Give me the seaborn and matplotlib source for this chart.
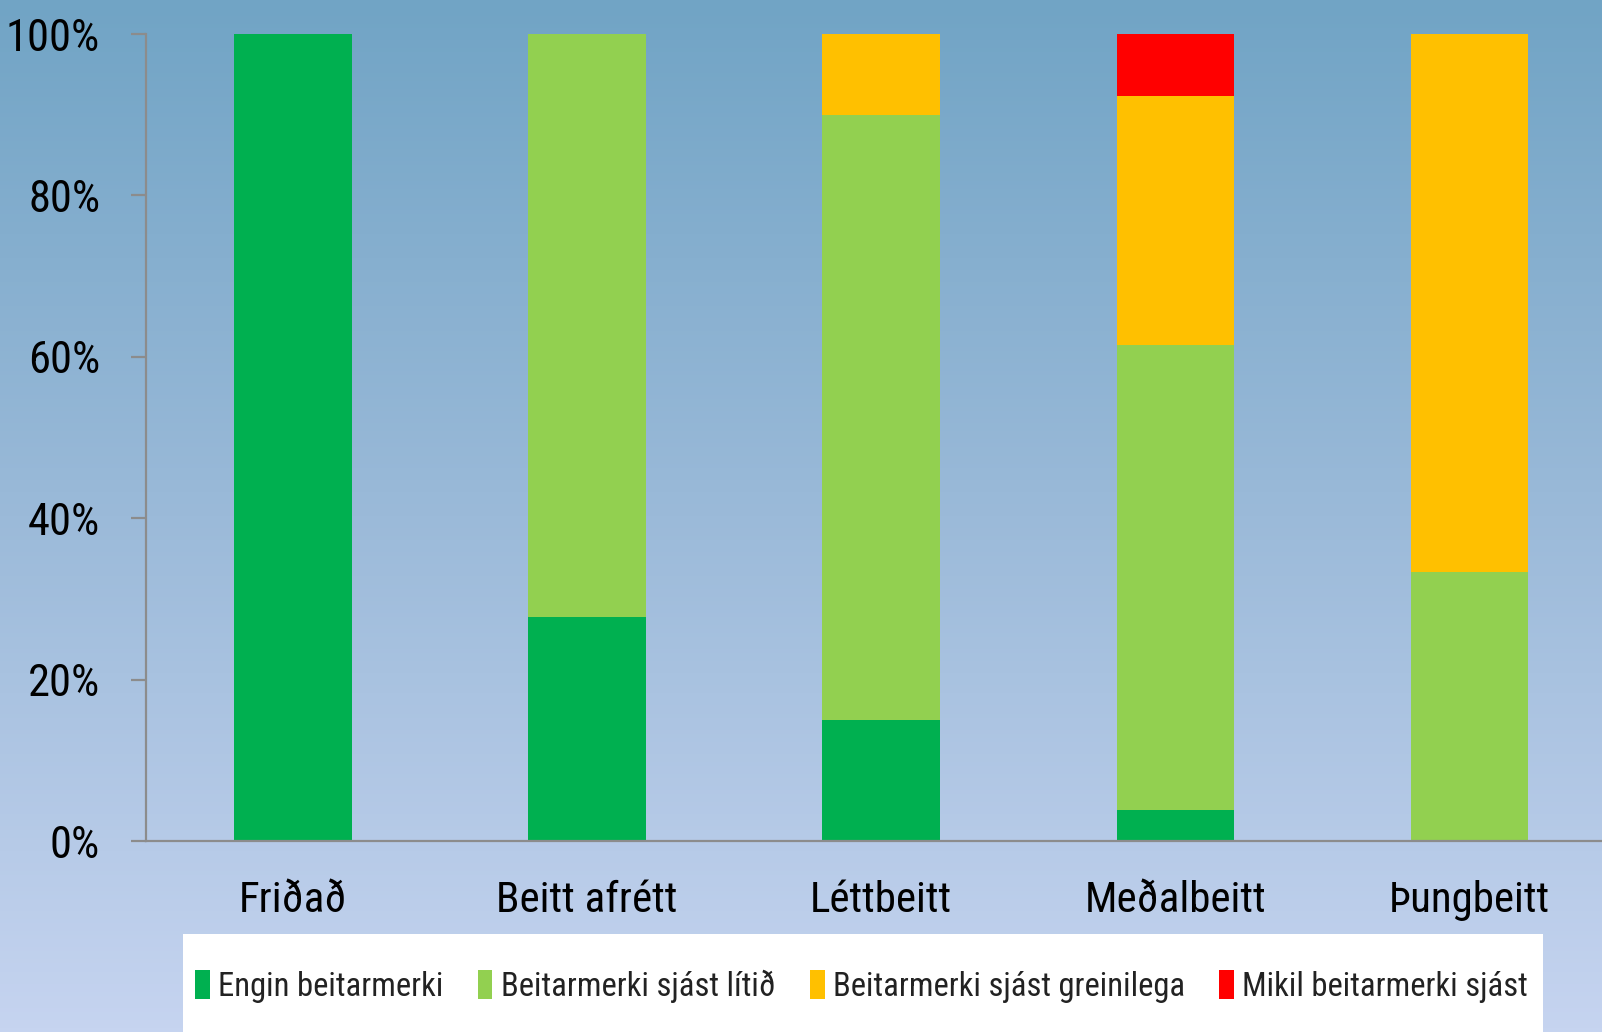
import numpy as np
import pandas as pd
import matplotlib
matplotlib.use("Agg")
import matplotlib.pyplot as plt
import seaborn as sns
from matplotlib import font_manager as fm
from matplotlib.patches import Patch, Rectangle
from matplotlib.colors import LinearSegmentedColormap

# ---------------- data ----------------
categories = ["Friðað", "Beitt afrétt", "Léttbeitt", "Meðalbeitt", "Þungbeitt"]
series_names = ["Engin beitarmerki", "Beitarmerki sjást lítið",
                "Beitarmerki sjást greinilega", "Mikil beitarmerki sjást"]
engin = [100.0, 27.8, 15.0, 3.8, 0.0]
litid = [0.0, 72.2, 75.0, 57.7, 33.3]
greinilega = [0.0, 0.0, 10.0, 30.8, 66.7]
mikil = [0.0, 0.0, 0.0, 7.7, 0.0]
yticks = [0, 20, 40, 60, 80, 100]
ytick_labels = ["0%", "20%", "40%", "60%", "80%", "100%"]
colors = ["#00B050", "#92D050", "#FFC000", "#FF0000"]

# ---------------- font ----------------
names = {f.name for f in fm.fontManager.ttflist}
font_kw = {}
scale = 1.0
for cand, sc in [("Roboto Condensed", 1.0), ("Liberation Sans Narrow", 1.05),
                 ("Open Sans Condensed", 1.0), ("DejaVu Sans Condensed", 0.9)]:
    if cand in names:
        font_kw = {"family": cand}
        scale = sc
        break
if not font_kw:
    font_kw = {"family": "DejaVu Sans", "stretch": "condensed"}
    scale = 0.9

sns.set_theme(style="white")
plt.rcParams["font.family"] = font_kw["family"]
if "stretch" in font_kw:
    plt.rcParams["font.stretch"] = font_kw["stretch"]

W, H = 1602, 1032
fig = plt.figure(figsize=(W / 100, H / 100), dpi=100)

# gradient background
bg = fig.add_axes([0, 0, 1, 1], zorder=-10)
cmap = LinearSegmentedColormap.from_list(
    "bg", ["#71A4C5", "#9BBAD9", "#C6D4F0"])
grad = np.linspace(0, 1, 256).reshape(-1, 1)
bg.imshow(grad, aspect="auto", cmap=cmap, extent=[0, 1, 0, 1], origin="upper")
bg.set_axis_off()

left = 146 / W
bottom = (H - 841) / H
width = (1616.6 - 146) / W
height = 807 / H
ax = fig.add_axes([left, bottom, width, height])
ax.set_facecolor("none")

df = pd.DataFrame({"cat": categories, "a": engin, "b": litid,
                   "c": greinilega, "d": mikil})
cum = df[["a", "b", "c", "d"]].cumsum(axis=1)
for col, c in zip(["d", "c", "b", "a"], colors[::-1]):
    sns.barplot(x=df["cat"], y=cum[col], order=categories, color=c,
                saturation=1, width=0.4, linewidth=0, edgecolor="none", ax=ax)

ax.set_xlim(-0.5, 4.5)
ax.set_ylim(0, 100)
ax.set_xlabel("")
ax.set_ylabel("")
ax.set_yticks(yticks)
ax.set_yticklabels(ytick_labels)
ax.tick_params(axis="y", length=11, width=1.6, color="#8C8C8C", pad=22,
               labelsize=32 * scale, labelcolor="black", left=True)
ax.tick_params(axis="x", length=0, pad=28, labelsize=31 * scale,
               labelcolor="black")
for s in ["top", "right"]:
    ax.spines[s].set_visible(False)
for s in ["left", "bottom"]:
    ax.spines[s].set_color("#8C8C8C")
    ax.spines[s].set_linewidth(1.6)

# legend box
fig.patches.append(Rectangle((183 / W, 0), (1543 - 183) / W, (H - 934) / H,
                             transform=fig.transFigure, facecolor="white",
                             edgecolor="none", zorder=1))
handles = [Patch(facecolor=c, edgecolor="none") for c in colors]
leg = fig.legend(handles, series_names, ncol=4, mode="expand",
                 bbox_to_anchor=(195 / W, 26 / H, (1528 - 195) / W, 40 / H),
                 loc="center", frameon=False, fontsize=23.5 * scale,
                 handlelength=0.45, handleheight=1.0, handletextpad=0.25,
                 borderaxespad=0, borderpad=0)
for t in leg.get_texts():
    t.set_color("#222222")
leg.set_zorder(2)

fig.savefig("out.png", dpi=100)
